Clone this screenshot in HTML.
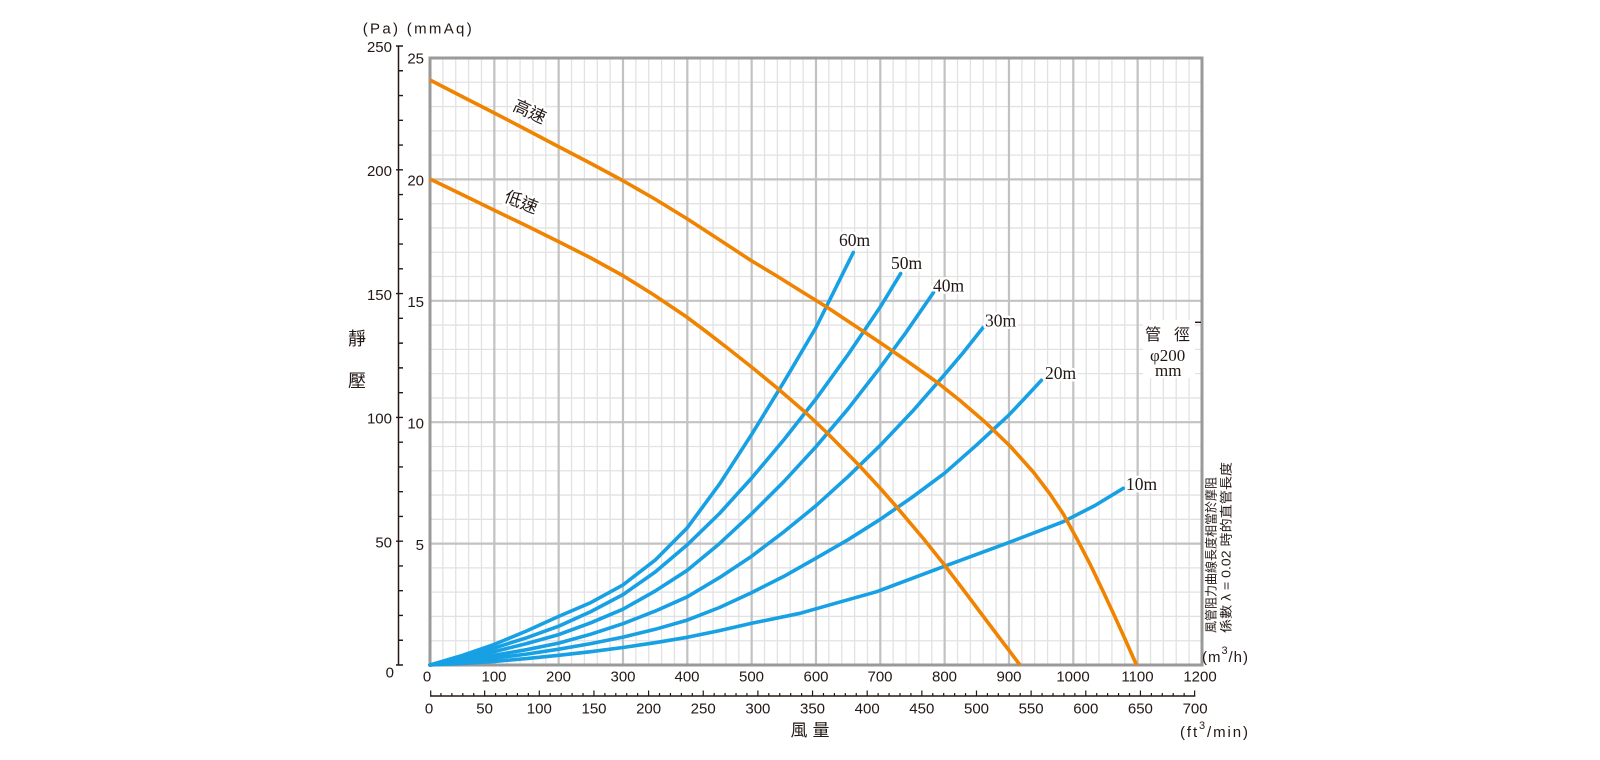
<!DOCTYPE html>
<html><head><meta charset="utf-8"><style>
html,body{margin:0;padding:0;background:#fff;}
svg{display:block;}
.n{font-family:"Liberation Sans","DejaVu Sans",sans-serif;font-size:15px;fill:#231815;}
.cj{font-family:"Liberation Sans","Noto Sans CJK TC",sans-serif;fill:#231815;}
.sf{font-family:"Liberation Serif","Noto Serif CJK SC",serif;fill:#231815;}
.lbl{paint-order:stroke;stroke:#fff;stroke-width:5px;stroke-linejoin:round;}
</style></head><body>
<svg width="1600" height="760" viewBox="0 0 1600 760" xmlns="http://www.w3.org/2000/svg">
<rect width="1600" height="760" fill="#fff"/>
<!-- minor grid -->
<path fill="none" stroke="#e2e2e2" stroke-width="1.3" d="M442.87 58V665M455.73 58V665M468.6 58V665M481.46 58V665M507.2 58V665M520.06 58V665M532.93 58V665M545.79 58V665M571.53 58V665M584.39 58V665M597.26 58V665M610.12 58V665M635.86 58V665M648.72 58V665M661.59 58V665M674.45 58V665M700.19 58V665M713.05 58V665M725.92 58V665M738.78 58V665M764.52 58V665M777.38 58V665M790.25 58V665M803.11 58V665M828.85 58V665M841.71 58V665M854.58 58V665M867.44 58V665M893.18 58V665M906.04 58V665M918.91 58V665M931.77 58V665M957.51 58V665M970.37 58V665M983.24 58V665M996.1 58V665M1021.84 58V665M1034.7 58V665M1047.57 58V665M1060.43 58V665M1086.17 58V665M1099.03 58V665M1111.9 58V665M1124.76 58V665M1150.5 58V665M1163.36 58V665M1176.23 58V665M1189.09 58V665
M430 640.72H1202M430 616.44H1202M430 592.16H1202M430 567.88H1202M430 519.32H1202M430 495.04H1202M430 470.76H1202M430 446.48H1202M430 397.92H1202M430 373.64H1202M430 349.36H1202M430 325.08H1202M430 276.52H1202M430 252.24H1202M430 227.96H1202M430 203.68H1202M430 155.12H1202M430 130.84H1202M430 106.56H1202M430 82.28H1202"/>
<!-- major grid -->
<path fill="none" stroke="#c2c2c2" stroke-width="2.2" d="M494.33 58V665M558.66 58V665M622.99 58V665M687.32 58V665M751.65 58V665M815.98 58V665M880.31 58V665M944.64 58V665M1008.97 58V665M1073.3 58V665M1137.63 58V665
M430 543.6H1202M430 422.2H1202M430 300.8H1202M430 179.4H1202"/>
<!-- white box behind pipe text -->
<rect x="1143" y="320" width="52" height="58" fill="#fff"/>
<!-- border -->
<rect x="430" y="58" width="772" height="607" fill="none" stroke="#9a9a9a" stroke-width="3"/>
<line x1="1195" y1="322.3" x2="1201" y2="322.3" stroke="#231815" stroke-width="1.4"/>

<!-- blue resistance curves -->
<g fill="none" stroke="#17a0e3" stroke-width="3.6" stroke-linejoin="round" stroke-linecap="round">
<polyline points="430,665 462.2,663.4 494.3,661.4 526.5,658.6 558.7,655.3 590.8,651.7 623,647.5 655.2,642.7 687.3,637.3 719.5,630.6 751.7,623.3 800,613.3 830,604.8 876.7,591.7 943.3,566.7 1006.7,543.3 1063.3,521.7 1095,505.5 1123.3,488.3"/>
<polyline points="430,665 462.2,661.8 494.3,658.2 526.5,654.1 558.7,649.2 590.8,643.6 623,637.1 655.2,629.3 687.3,620.1 719.5,607.5 751.7,592.6 783.8,576.4 816,558.2 848.1,539.7 880.3,519.3 912.5,497 944.6,473.2 976.8,444.8 1009,414.9 1025.1,397.9 1041.4,380.3"/>
<polyline points="430,665 462.2,660.4 494.3,655.3 526.5,649.7 558.7,643.1 590.8,634.2 623,623.7 655.2,611.1 687.3,596.8 719.5,577.6 751.7,556.2 783.8,531.9 816,505.7 848.1,476.6 880.3,445.3 912.5,411.3 944.6,374.6 963.9,351.8 983.3,327.3"/>
<polyline points="430,665 462.2,658.7 494.3,651.6 526.5,643.6 558.7,634.6 590.8,622.8 623,609.2 655.2,591 687.3,570.3 719.5,543.6 751.7,513.7 783.8,481.7 816,446.7 848.1,408.8 880.3,367.3 906,332.4 933.5,292.5"/>
<polyline points="430,665 462.2,657.2 494.3,648 526.5,637.8 558.7,626.2 590.8,611.6 623,594.6 655.2,572 687.3,544.8 719.5,513.5 751.7,478 783.8,439.9 816,398.9 848.1,354.5 880.3,306.9 900.7,273.5"/>
<polyline points="430,665 462.2,655.5 494.3,644.4 526.5,631 558.7,616.4 590.8,602.6 623,584.9 655.2,560.1 687.3,527.8 719.5,484.1 751.7,434.3 783.8,382.1 816,327.5 853.3,252.5"/>
</g>
<!-- orange fan curves -->
<g fill="none" stroke="#f08300" stroke-width="3.6" stroke-linejoin="round">
<polyline points="430,80 462,96.5 494.3,113 526,129.5 558.3,146.5 590,163 621.7,180 654,198.5 686.7,218.5 719,239.5 751,260.5 776,275.5 800,290.5 826.7,307 853,324.5 880,342.5 907,361 936.7,382 960,400.5 985,422 1010,446 1033.3,472 1050,494 1063.3,514 1077,539 1090,564 1102,589 1113.3,613.3 1125,639 1136.5,665"/>
<polyline points="430,179 462,194.5 494.3,210.3 526,225.5 558.3,241.5 590,257.5 622.7,275.5 654,295 686.7,317 708,333 730,350 754,369 778.3,389 805,412 826.7,432.5 858.3,464.5 880,488 896.7,507 923.3,538.5 943.3,563.5 962,588 980,612 1000,638.5 1020,665"/>
</g>

<!-- curve labels -->
<g class="sf lbl" font-size="17.5">
<text x="839" y="246">60m</text>
<text x="891" y="269">50m</text>
<text x="933" y="291.5">40m</text>
<text x="985" y="326.5">30m</text>
<text x="1045" y="379">20m</text>
<text x="1126" y="490">10m</text>
</g>
<g class="cj lbl" font-size="17">
<text transform="translate(530,111) rotate(25)" text-anchor="middle" y="6.5">高速</text>
<text transform="translate(521.5,201.5) rotate(22)" text-anchor="middle" y="6.5">低速</text>
</g>

<!-- pipe diameter -->
<text class="cj" font-size="16" x="1145" y="340">管</text>
<text class="cj" font-size="16" x="1174" y="340">徑</text>
<text class="sf" font-size="17" x="1150" y="361">φ200</text>
<text class="sf" font-size="17" x="1155" y="376">mm</text>

<!-- vertical notes -->
<text class="cj" font-size="12.5" transform="translate(1215.5,633) rotate(-90)" textLength="156" lengthAdjust="spacingAndGlyphs">風管阻力曲線長度相當於摩阻</text>
<text class="cj" font-size="12.5" transform="translate(1230.5,633) rotate(-90)" textLength="171" lengthAdjust="spacingAndGlyphs">係數 λ = 0.02 時的直管長度</text>

<!-- left Pa axis -->
<line x1="398.5" y1="46" x2="398.5" y2="665" stroke="#231815" stroke-width="1.5"/>
<path fill="none" stroke="#231815" stroke-width="1.4" d="M398 640.24H403M398 615.48H403M398 590.72H403M398 565.96H403M398 516.44H403M398 491.68H403M398 466.92H403M398 442.16H403M398 392.64H403M398 367.88H403M398 343.12H403M398 318.36H403M398 268.84H403M398 244.08H403M398 219.32H403M398 194.56H403M398 145.04H403M398 120.28H403M398 95.52H403M398 70.76H403
M396 665H403M396 541.2H403M396 417.4H403M396 293.6H403M396 169.8H403M396 46H403"/>
<g class="n" text-anchor="end">
<text x="392" y="52">250</text>
<text x="392" y="176">200</text>
<text x="392" y="300">150</text>
<text x="392" y="423.5">100</text>
<text x="392" y="547.5">50</text>
<text x="394" y="677.5">0</text>
<text x="424" y="63.5">25</text>
<text x="424" y="185.5">20</text>
<text x="424" y="307">15</text>
<text x="424" y="428.5">10</text>
<text x="424" y="550">5</text>
</g>
<text class="n" x="362.7" y="33.5" textLength="109" lengthAdjust="spacing">(Pa) (mmAq)</text>
<text class="cj" font-size="18" x="357" y="345" text-anchor="middle">靜</text>
<text class="cj" font-size="18" x="357" y="387" text-anchor="middle">壓</text>

<!-- m3/h labels -->
<g class="n" text-anchor="middle">
<text x="427" y="681.5">0</text>
<text x="494" y="681.5">100</text>
<text x="558.5" y="681.5">200</text>
<text x="623" y="681.5">300</text>
<text x="687" y="681.5">400</text>
<text x="751.5" y="681.5">500</text>
<text x="816" y="681.5">600</text>
<text x="880" y="681.5">700</text>
<text x="944.5" y="681.5">800</text>
<text x="1009" y="681.5">900</text>
<text x="1073" y="681.5">1000</text>
<text x="1137.5" y="681.5">1100</text>
<text x="1200" y="681.5">1200</text>
</g>
<text class="n" font-size="16" x="1202" y="662" textLength="46" lengthAdjust="spacing">(m<tspan font-size="11" dy="-8">3</tspan><tspan dy="8">/h)</tspan></text>

<!-- cfm axis -->
<line x1="430" y1="696" x2="1195.3" y2="696" stroke="#231815" stroke-width="1.4"/>
<path fill="none" stroke="#231815" stroke-width="1.2" d="M440.93 693V696M451.86 693V696M462.79 693V696M473.72 693V696M495.58 693V696M506.51 693V696M517.44 693V696M528.37 693V696M550.23 693V696M561.16 693V696M572.09 693V696M583.02 693V696M604.88 693V696M615.8 693V696M626.73 693V696M637.66 693V696M659.52 693V696M670.45 693V696M681.38 693V696M692.31 693V696M714.17 693V696M725.1 693V696M736.03 693V696M746.96 693V696M768.82 693V696M779.75 693V696M790.68 693V696M801.61 693V696M823.47 693V696M834.4 693V696M845.33 693V696M856.26 693V696M878.12 693V696M889.05 693V696M899.98 693V696M910.91 693V696M932.77 693V696M943.7 693V696M954.63 693V696M965.55 693V696M987.41 693V696M998.34 693V696M1009.27 693V696M1020.2 693V696M1042.06 693V696M1052.99 693V696M1063.92 693V696M1074.85 693V696M1096.71 693V696M1107.64 693V696M1118.57 693V696M1129.5 693V696M1151.36 693V696M1162.29 693V696M1173.22 693V696M1184.15 693V696
M430.7 690.5V696M484.65 690.5V696M539.3 690.5V696M593.95 690.5V696M648.59 690.5V696M703.24 690.5V696M757.89 690.5V696M812.54 690.5V696M867.19 690.5V696M921.84 690.5V696M976.49 690.5V696M1031.13 690.5V696M1085.78 690.5V696M1140.43 690.5V696M1194.6 690.5V696"/>
<g class="n" text-anchor="middle">
<text x="429" y="713.5">0</text>
<text x="484.6" y="713.5">50</text>
<text x="539.3" y="713.5">100</text>
<text x="594" y="713.5">150</text>
<text x="648.6" y="713.5">200</text>
<text x="703.2" y="713.5">250</text>
<text x="757.9" y="713.5">300</text>
<text x="812.5" y="713.5">350</text>
<text x="867.2" y="713.5">400</text>
<text x="921.8" y="713.5">450</text>
<text x="976.5" y="713.5">500</text>
<text x="1031.1" y="713.5">550</text>
<text x="1085.8" y="713.5">600</text>
<text x="1140.4" y="713.5">650</text>
<text x="1195.1" y="713.5">700</text>
</g>
<text class="n" font-size="16" x="1180" y="737" textLength="68" lengthAdjust="spacing">(ft<tspan font-size="11" dy="-8">3</tspan><tspan dy="8">/min)</tspan></text>
<text class="cj" font-size="17" x="799" y="736" text-anchor="middle">風</text>
<text class="cj" font-size="17" x="821" y="736" text-anchor="middle">量</text>
</svg>
</body></html>
